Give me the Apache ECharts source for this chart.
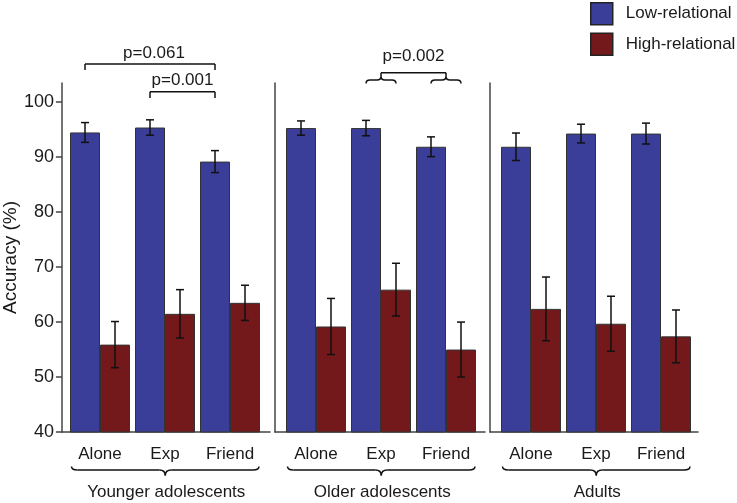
<!DOCTYPE html>
<html><head><meta charset="utf-8">
<script src="https://cdn.jsdelivr.net/npm/echarts@6/dist/echarts.min.js"></script>
<style>html,body{margin:0;padding:0;background:#fff}#c{width:737px;height:503px}</style>
</head><body><div id="c"></div>
<script>
const categories = ['Alone', 'Exp', 'Friend'];
const groupNames = ['Younger adolescents', 'Older adolescents', 'Adults'];
const seriesNames = ['Low-relational', 'High-relational'];
const lowYoung = [94.5, 95.4, 89.2];
const lowYoungErr = [1.8, 1.4, 2.0];
const highYoung = [55.9, 61.5, 63.5];
const highYoungErr = [4.2, 4.4, 3.2];
const lowOlder = [95.3, 95.3, 91.9];
const lowOlderErr = [1.3, 1.4, 1.8];
const highOlder = [59.2, 65.9, 55.0];
const highOlderErr = [5.1, 4.8, 5.0];
const lowAdult = [91.9, 94.3, 94.3];
const lowAdultErr = [2.5, 1.7, 1.9];
const highAdult = [62.4, 59.7, 57.4];
const highAdultErr = [5.8, 5.0, 4.8];
const yTicks = [40, 50, 60, 70, 80, 90, 100];
const pLabels = ['p=0.061', 'p=0.001', 'p=0.002'];

const FONT = '"Liberation Sans", Arial, sans-serif';
const BLUE = '#3B3E99', RED = '#73181B';
const TXT = '#1a1a1a', LINE = '#444';
const YMIN = 40, YMAX = 103.5;
const GAP = 5 / 65;

const panels = [
  {low: lowYoung, lowErr: lowYoungErr, high: highYoung, highErr: highYoungErr},
  {low: lowOlder, lowErr: lowOlderErr, high: highOlder, highErr: highOlderErr},
  {low: lowAdult, lowErr: lowAdultErr, high: highAdult, highErr: highAdultErr}
];
const frameLefts = [61, 275, 490], frameWidths = [209, 210, 208];
const barLefts = [67.5, 283.5, 498.5], bandTotal = 195;
const gTop = 83, gBottom = 71;

const grid = [], xAxis = [], yAxis = [], series = [];
for (let p = 0; p < 3; p++) {
  grid.push({left: frameLefts[p], width: frameWidths[p], top: gTop, bottom: gBottom});
  xAxis.push({gridIndex: p, type: 'value', min: 0, max: 1,
    axisLine: {show: true, onZero: false, lineStyle: {color: LINE, width: 1.5}},
    axisTick: {show: false}, axisLabel: {show: false}, splitLine: {show: false}});
  yAxis.push({gridIndex: p, type: 'value', min: YMIN, max: YMAX,
    axisLine: {show: true, onZero: false, lineStyle: {color: LINE, width: 1.5}},
    axisTick: {show: p === 0, customValues: yTicks, length: 6, lineStyle: {color: LINE, width: 1.5}},
    axisLabel: {show: p === 0, customValues: yTicks, fontSize: 18, color: TXT, fontFamily: FONT, margin: 8},
    splitLine: {show: false},
    name: p === 0 ? 'Accuracy (%)' : '', nameLocation: 'middle', nameGap: 40,
    nameTextStyle: {fontSize: 19, color: TXT, fontFamily: FONT}});
}
for (let p = 0; p < 3; p++) {
  grid.push({left: barLefts[p], width: bandTotal, top: gTop, bottom: gBottom});
  xAxis.push({gridIndex: 3 + p, type: 'category', data: categories,
    axisLine: {show: false}, axisTick: {show: false},
    axisLabel: {fontSize: 17, color: TXT, fontFamily: FONT, margin: 14}});
  yAxis.push({gridIndex: 3 + p, type: 'value', min: YMIN, max: YMAX, show: false});
}

function errSeries(p, vals, errs, which) {
  return {
    type: 'custom', xAxisIndex: 3 + p, yAxisIndex: 3 + p, z: 10, silent: true,
    data: vals.map((v, i) => [i, v, errs[i]]),
    renderItem(params, api) {
      const i = api.value(0), v = api.value(1), e = api.value(2);
      const band = api.size([1, 0])[0];
      const bw = band * (1 - GAP) / 2;
      const c = api.coord([i, v]);
      const x = c[0] + (which === 0 ? -bw / 2 : bw / 2);
      const yt = api.coord([i, v + e])[1], yb = api.coord([i, v - e])[1];
      const style = {stroke: '#111', lineWidth: 1.5};
      return {type: 'group', children: [
        {type: 'line', shape: {x1: x, y1: yt, x2: x, y2: yb}, style},
        {type: 'line', shape: {x1: x - 4, y1: yt, x2: x + 4, y2: yt}, style},
        {type: 'line', shape: {x1: x - 4, y1: yb, x2: x + 4, y2: yb}, style}
      ]};
    }
  };
}

panels.forEach((pd, p) => {
  series.push({type: 'bar', name: seriesNames[0], xAxisIndex: 3 + p, yAxisIndex: 3 + p,
    data: pd.low, barGap: '0%', barCategoryGap: (GAP * 100) + '%', clip: true,
    itemStyle: {color: BLUE, borderColor: '#333', borderWidth: 1}});
  series.push({type: 'bar', name: seriesNames[1], xAxisIndex: 3 + p, yAxisIndex: 3 + p,
    data: pd.high, barGap: '0%', barCategoryGap: (GAP * 100) + '%', clip: true,
    itemStyle: {color: RED, borderColor: '#333', borderWidth: 1}});
  series.push(errSeries(p, pd.low, pd.lowErr, 0));
  series.push(errSeries(p, pd.high, pd.highErr, 1));
});

const chart = echarts.init(document.getElementById('c'), null, {renderer: 'canvas'});
chart.setOption({
  animation: false,
  backgroundColor: '#fff',
  grid, xAxis, yAxis, series,
  legend: {data: seriesNames, orient: 'vertical', left: 590, top: 2, padding: 0,
    itemWidth: 22, itemHeight: 22, itemGap: 7, icon: 'rect',
    itemStyle: {borderColor: '#222', borderWidth: 1.5},
    textStyle: {fontSize: 17, color: TXT, fontFamily: FONT, padding: [0, 0, 0, 8], overflow: 'none', width: 130}}
});

// annotations positioned from the axes
function px(p, cat, val) {
  return chart.convertToPixel({xAxisIndex: 3 + p, yAxisIndex: 3 + p}, [cat, val]);
}
const band = px(0, 1, 50)[0] - px(0, 0, 50)[0];
const bw = band * (1 - GAP) / 2;
function blueX(p, c) { return px(p, c, 50)[0] - bw / 2; }
function redX(p, c) { return px(p, c, 50)[0] + bw / 2; }

const g = [];
const ls = {stroke: '#111', lineWidth: 1.5, fill: null};
function line(x1, y1, x2, y2) { g.push({type: 'line', shape: {x1, y1, x2, y2}, style: ls, silent: true}); }
function curve(x1, y1, cx, cy, x2, y2) { g.push({type: 'bezierCurve', shape: {x1, y1, x2, y2, cpx1: cx, cpy1: cy}, style: ls, silent: true}); }
function text(t, x, y) {
  g.push({type: 'text', x, y, silent: true, style: {text: t, fill: TXT, font: '17px ' + FONT,
    align: 'center', verticalAlign: 'middle', textAlign: 'center', textVerticalAlign: 'middle'}});
}
// brace: dir=1 tip downward, dir=-1 tip upward
function brace(x1, x2, y, hEnd, hTip, r, dir) {
  const xm = (x1 + x2) / 2;
  curve(x1, y - dir * hEnd, x1, y, x1 + r, y);
  line(x1 + r, y, xm - r, y);
  curve(xm - r, y, xm, y, xm, y + dir * hTip);
  curve(xm, y + dir * hTip, xm, y, xm + r, y);
  line(xm + r, y, x2 - r, y);
  curve(x2 - r, y, x2, y, x2, y - dir * hEnd);
}
function bracket(x1, x2, y, yDown) {
  line(x1, y, x2, y); line(x1, y, x1, yDown); line(x2, y, x2, yDown);
}

// p=0.061 : Alone vs Friend (low-relational, younger)
{
  const a = blueX(0, 0), b = blueX(0, 2);
  bracket(a, b, 64, 70);
  text(pLabels[0], (a + b) / 2 + 4, 53);
}
// p=0.001 : Exp vs Friend (low-relational, younger)
{
  const a = blueX(0, 1), b = blueX(0, 2);
  bracket(a, b, 91.7, 98);
  text(pLabels[1], (a + b) / 2, 80.7);
}
// p=0.002 : interaction Exp vs Friend (older)
{
  const a1 = blueX(1, 1), a2 = redX(1, 1), b1 = blueX(1, 2), b2 = redX(1, 2);
  brace(a1, a2, 80, 3.5, 3.5, 4, -1);
  brace(b1, b2, 80, 3.5, 3.5, 4, -1);
  const am = (a1 + a2) / 2, bm = (b1 + b2) / 2;
  line(am, 72.7, bm, 72.7); line(am, 72.7, am, 76.5); line(bm, 72.7, bm, 76.5);
  text(pLabels[2], (am + bm) / 2, 56.4);
}
// bottom group braces and names
for (let p = 0; p < 3; p++) {
  const x1 = blueX(p, 0) - bw / 2 + 1.5, x2 = redX(p, 2) + bw / 2 - 1;
  brace(x1, x2, 470, 3.5, 5.5, 6, 1);
  text(groupNames[p], (x1 + x2) / 2 + 1, 492);
}
chart.setOption({graphic: {elements: g}});
</script>
</body></html>
